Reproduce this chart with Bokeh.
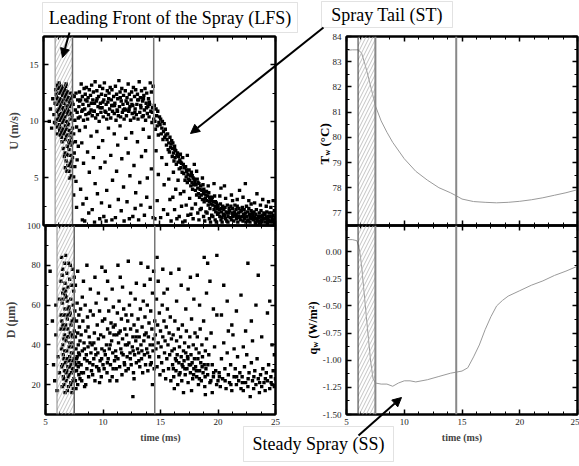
import numpy as np
from bokeh.plotting import figure
from bokeh.models import (Range1d, LinearAxis, BoxAnnotation, Span, Label, Arrow,
                          NormalHead, SingleIntervalTicker, PrintfTickFormatter)
from bokeh.embed import file_html
from bokeh.resources import INLINE

# ---------------- data ----------------
u_pts = [
 (5.5,10.0),(5.6,11.1),(5.7,9.4),(5.8,12.0),(5.9,10.6),(6.0,11.6),(5.95,9.9),
 (6.05,12.8),(6.1,11.5),(6.1,10.2),(6.15,12.1),(6.2,13.2),(6.2,9.5),(6.25,11.0),(6.3,12.5),(6.3,10.6),(6.05,9.8),(6.15,10.9),(6.25,13.0),(6.1,12.4),(6.2,8.9),(6.3,11.8),
 (6.35,13.4),(6.4,12.0),(6.4,10.1),(6.45,8.8),(6.45,11.3),(6.5,12.7),(6.5,9.4),(6.55,10.7),(6.55,13.1),(6.6,11.9),(6.6,8.2),(6.65,9.9),(6.65,12.3),(6.7,10.5),(6.7,7.6),(6.35,11.1),(6.4,9.2),(6.5,11.8),(6.6,10.3),(6.7,12.8),(6.45,12.5),(6.55,8.6),(6.65,11.2),(6.35,10.3),
 (6.75,11.6),(6.8,9.1),(6.8,12.9),(6.85,7.2),(6.85,10.4),(6.9,11.9),(6.9,8.4),(6.95,6.5),(6.95,10.0),(7.0,12.4),(7.0,9.3),(7.05,7.8),(7.05,11.1),(7.1,6.1),(7.1,10.6),(6.75,8.9),(6.8,6.9),(6.9,13.1),(7.0,7.1),(7.05,12.6),(6.85,12.2),(6.95,11.4),(7.1,8.8),(6.75,10.1),
 (7.15,12.1),(7.15,9.7),(7.2,7.5),(7.2,5.6),(7.25,11.3),(7.25,8.3),(7.3,10.2),(7.3,6.3),(7.35,12.5),(7.35,9.0),(7.4,5.2),(7.4,7.9),(7.45,11.7),(7.45,10.5),(7.5,6.8),(7.5,9.4),(7.2,10.9),(7.3,12.0),(7.4,8.6),(7.5,12.3),(7.35,6.0),(7.15,7.0),
 (6.22,12.0),(6.28,10.1),(6.33,12.9),(6.38,9.7),(6.42,11.6),(6.48,10.4),(6.52,13.0),(6.58,9.0),(6.62,12.6),(6.68,9.3),(6.72,11.0),(6.78,12.4),(6.82,10.8),(6.88,9.6),(6.92,12.7),(6.98,8.7),(7.02,10.9),(7.08,9.9),(7.12,11.8),(7.18,8.1),(7.22,9.2),(7.28,11.6),(7.32,7.0),(7.38,10.7),(7.42,6.5),(7.48,8.1),(6.88,5.9),(7.02,5.6),(7.25,5.0),(6.95,13.3),
 (7.55,11.5),(7.6,8.9),(7.6,5.1),(7.65,12.2),(7.65,7.2),(7.7,10.1),(7.7,6.0),(7.75,11.0),(7.75,8.2),(7.8,12.5),(7.8,4.7),(7.85,9.5),(7.9,10.8),(7.9,6.6),(7.95,11.9),(8.0,7.8),(8.0,10.3),(7.6,3.5),(7.85,2.4),
 (8.05,11.3),(8.1,12.6),(8.15,10.4),(8.2,11.9),(8.25,13.3),(8.3,10.9),(8.35,12.2),(8.4,11.5),(8.45,10.1),(8.5,12.9),(8.1,9.2),(8.3,8.1),(8.45,6.3),(8.2,4.0),(8.4,2.7),(8.35,1.3),
 (8.55,11.1),(8.6,12.4),(8.65,10.6),(8.7,13.0),(8.75,11.8),(8.8,10.2),(8.85,12.1),(8.9,11.4),(8.95,12.8),(9.0,10.8),(8.6,9.5),(8.8,7.3),(8.95,5.5),(8.7,3.2),(8.9,1.9),(8.55,1.2),
 (9.05,12.3),(9.1,11.0),(9.15,13.2),(9.2,10.5),(9.25,11.9),(9.3,12.6),(9.35,10.9),(9.4,11.6),(9.45,13.5),(9.5,10.3),(9.1,8.7),(9.3,6.8),(9.45,4.5),(9.2,2.2),(9.4,1.1),
 (9.55,11.8),(9.6,12.7),(9.65,10.6),(9.7,11.3),(9.75,12.2),(9.8,10.0),(9.85,13.1),(9.9,11.6),(9.95,10.8),(10.0,12.4),(9.6,9.1),(9.75,7.7),(9.9,5.9),(9.65,3.6),(9.85,1.4),(10.0,2.8),
 (10.05,11.2),(10.1,12.9),(10.15,10.4),(10.2,11.9),(10.25,13.4),(10.3,10.9),(10.35,12.3),(10.4,11.5),(10.45,10.2),(10.5,12.7),(10.1,8.3),(10.3,6.4),(10.45,3.9),(10.2,1.6),(10.4,1.2),
 (10.55,11.7),(10.6,10.6),(10.65,12.5),(10.7,11.1),(10.75,13.0),(10.8,10.3),(10.85,11.9),(10.9,12.8),(10.95,10.9),(11.0,11.4),(10.6,9.4),(10.8,7.0),(10.95,4.8),(10.7,2.5),(10.9,1.3),
 (11.05,12.2),(11.1,10.7),(11.15,11.6),(11.2,13.1),(11.25,10.1),(11.3,12.4),(11.35,11.0),(11.4,12.0),(11.45,10.5),(11.5,13.6),(11.1,8.9),(11.3,5.6),(11.45,3.1),(11.2,1.5),(11.4,7.9),
 (11.55,11.3),(11.6,12.6),(11.65,10.4),(11.7,11.8),(11.75,12.9),(11.8,10.8),(11.85,11.5),(11.9,12.3),(11.95,10.2),(12.0,11.1),(11.6,9.6),(11.75,6.7),(11.9,4.2),(11.7,2.1),(11.95,1.2),
 (12.05,12.7),(12.1,11.0),(12.15,10.5),(12.2,12.1),(12.25,11.6),(12.3,13.3),(12.35,10.9),(12.4,12.4),(12.45,11.3),(12.5,10.1),(12.1,8.5),(12.3,7.2),(12.45,5.2),(12.2,2.9),(12.4,1.4),
 (12.55,11.9),(12.6,12.6),(12.65,10.7),(12.7,11.4),(12.75,13.0),(12.8,10.3),(12.85,12.2),(12.9,11.1),(12.95,12.8),(13.0,10.6),(12.6,9.0),(12.8,6.1),(12.95,3.7),(12.7,1.6),(12.9,2.3),
 (13.05,11.5),(13.1,12.4),(13.15,10.2),(13.2,11.9),(13.25,13.5),(13.3,10.8),(13.35,12.1),(13.4,11.2),(13.45,12.7),(13.5,10.4),(13.1,8.2),(13.3,4.6),(13.45,6.9),(13.2,1.3),(13.4,2.6),
 (13.55,11.8),(13.6,10.5),(13.65,12.3),(13.7,11.0),(13.75,12.9),(13.8,10.1),(13.85,11.6),(13.9,12.5),(13.95,10.7),(14.0,11.3),(13.6,9.3),(13.8,7.4),(13.95,5.0),(13.7,1.7),(13.9,3.3),
 (14.05,12.0),(14.1,10.4),(14.15,11.5),(14.2,13.4),(14.25,10.9),(14.3,12.6),(14.35,9.9),(14.4,11.2),(14.45,13.1),(14.5,10.2),(14.1,8.6),(14.3,5.8),(14.45,1.5),(14.2,2.4),
 (8.12,11.8),(8.62,11.9),(9.12,11.6),(9.62,12.0),(10.12,11.7),(10.62,12.0),(11.12,11.4),(11.62,12.1),(12.12,11.8),(12.62,11.5),(13.12,11.9),(13.62,12.0),(14.12,11.7),
 (8.38,11.0),(8.88,10.7),(9.38,10.9),(9.88,11.2),(10.38,10.8),(10.88,11.4),(11.38,10.9),(11.88,11.0),(12.38,11.1),(12.88,10.8),(13.38,11.4),(13.88,11.2),(14.38,10.8),
 (14.55,11.4),(14.6,10.0),(14.65,9.3),(14.7,11.1),(14.75,10.5),(14.8,9.6),(14.85,10.9),(14.9,8.8),(14.95,9.9),(15.0,10.4),(14.7,7.4),(14.9,5.3),(14.6,1.4),(14.8,3.0),
 (15.05,9.7),(15.1,10.2),(15.15,8.9),(15.2,9.4),(15.25,10.0),(15.3,8.4),(15.35,9.1),(15.4,9.8),(15.45,8.6),(15.5,9.3),(15.2,6.8),(15.4,4.4),(15.1,1.5),(15.35,2.2),
 (15.55,8.8),(15.6,7.9),(15.65,8.4),(15.7,8.9),(15.75,7.5),(15.8,8.1),(15.85,7.3),(15.9,8.6),(15.95,7.7),(16.0,8.0),(15.6,6.2),(15.8,4.9),(15.7,1.8),(15.9,3.1),(16.0,1.2),
 (16.05,8.3),(16.1,7.6),(16.1,6.9),(16.15,8.1),(16.2,7.2),(16.25,6.5),(16.3,7.8),(16.35,6.8),(16.4,7.4),(16.45,6.2),(16.5,7.0),(16.2,5.5),(16.4,4.0),(16.3,2.2),(16.5,1.4),(16.15,3.3),
 (16.55,7.2),(16.6,6.4),(16.65,6.9),(16.7,5.8),(16.75,6.6),(16.8,7.1),(16.85,5.9),(16.9,6.3),(16.95,5.5),(17.0,6.8),(16.6,4.8),(16.8,3.6),(16.7,1.6),(16.9,2.5),(17.0,1.1),
 (17.05,6.2),(17.1,5.4),(17.15,5.9),(17.2,4.8),(17.25,6.0),(17.3,5.1),(17.35,5.6),(17.4,4.6),(17.45,5.3),(17.5,4.9),(17.1,3.8),(17.3,2.6),(17.45,1.7),(17.2,1.2),(17.4,7.0),
 (17.55,5.7),(17.6,4.8),(17.65,5.2),(17.7,4.3),(17.75,5.5),(17.8,4.6),(17.85,4.0),(17.9,5.0),(17.95,4.4),(18.0,4.9),(17.6,3.2),(17.8,2.3),(17.9,1.4),(17.7,1.8),(18.0,6.2),
 (18.05,4.7),(18.1,3.9),(18.15,4.4),(18.2,3.5),(18.25,4.9),(18.3,4.1),(18.35,3.6),(18.4,4.5),(18.45,3.3),(18.5,4.0),(18.1,2.7),(18.3,1.9),(18.4,1.3),(18.2,5.6),(18.5,2.2),
 (18.55,4.3),(18.6,3.5),(18.65,3.9),(18.7,3.1),(18.75,4.4),(18.8,3.6),(18.85,2.9),(18.9,3.8),(18.95,3.2),(19.0,3.5),(18.6,2.3),(18.8,1.6),(18.9,1.2),(18.7,5.0),(19.0,2.0),
 (19.05,3.8),(19.1,3.0),(19.15,3.4),(19.2,2.6),(19.25,3.7),(19.3,2.9),(19.35,2.3),(19.4,3.2),(19.45,2.7),(19.5,3.0),(19.1,1.9),(19.3,1.4),(19.4,1.1),(19.2,4.3),(19.5,1.7),
 (19.55,3.3),(19.6,2.6),(19.65,2.9),(19.7,2.2),(19.75,3.4),(19.8,2.5),(19.85,2.0),(19.9,2.8),(19.95,2.3),(20.0,2.6),(19.6,1.6),(19.8,1.3),(19.9,1.1),(19.7,4.5),(20.0,1.8),
 (17.82,5.2),(18.32,4.6),(18.82,4.0),(19.32,3.3),(19.82,2.9),(20.32,2.3),(20.82,1.9),(21.32,1.7),(21.82,1.6),(22.32,1.5),(22.82,1.7),(23.32,1.4),(23.82,1.3),(24.32,1.4),(24.82,1.2),(16.32,7.5),(16.82,6.4),(17.32,5.7),
 (20.05,2.4),(20.1,1.9),(20.15,2.2),(20.2,1.6),(20.25,2.7),(20.3,1.3),(20.35,2.0),(20.4,1.5),(20.45,2.5),(20.5,1.8),(20.2,3.4),(20.4,1.1),(20.3,4.1),
 (20.55,2.2),(20.6,1.7),(20.65,2.4),(20.7,1.4),(20.75,2.0),(20.8,1.2),(20.85,2.6),(20.9,1.6),(20.95,1.9),(21.0,2.3),(20.7,3.2),(20.9,1.1),(20.6,4.3),
 (21.05,2.1),(21.1,1.5),(21.15,2.5),(21.2,1.3),(21.25,1.9),(21.3,2.3),(21.35,1.6),(21.4,1.2),(21.45,2.0),(21.5,2.6),(21.2,3.5),(21.4,1.8),(21.3,3.0),
 (21.55,1.8),(21.6,2.2),(21.65,1.4),(21.7,2.5),(21.75,1.1),(21.8,1.9),(21.85,2.3),(21.9,1.5),(21.95,2.0),(22.0,1.3),(21.7,3.1),(21.9,3.9),(21.6,1.7),
 (22.05,2.1),(22.1,1.6),(22.15,2.4),(22.2,1.2),(22.25,1.8),(22.3,2.2),(22.35,1.4),(22.4,1.9),(22.45,1.1),(22.5,2.5),(22.2,3.3),(22.4,4.5),(22.3,1.7),
 (22.55,1.6),(22.6,2.0),(22.65,1.3),(22.7,2.3),(22.75,1.8),(22.8,1.1),(22.85,1.5),(22.9,2.1),(22.95,1.4),(23.0,1.9),(22.7,3.0),(22.9,2.7),(22.6,1.2),
 (23.05,1.7),(23.1,1.3),(23.15,2.0),(23.2,1.5),(23.25,1.1),(23.3,1.8),(23.35,2.2),(23.4,1.4),(23.45,1.2),(23.5,1.6),(23.2,2.8),(23.4,3.6),(23.3,1.0),
 (23.55,1.5),(23.6,1.9),(23.65,1.2),(23.7,1.6),(23.75,2.1),(23.8,1.3),(23.85,1.1),(23.9,1.7),(23.95,1.4),(24.0,1.9),(23.7,2.6),(23.9,3.1),(23.6,1.0),
 (24.05,1.4),(24.1,1.8),(24.15,1.1),(24.2,1.5),(24.25,2.0),(24.3,1.2),(24.35,1.6),(24.4,1.3),(24.45,1.9),(24.5,1.1),(24.2,2.5),(24.4,2.9),(24.3,1.0),
 (24.55,1.6),(24.6,1.2),(24.65,1.9),(24.7,1.4),(24.75,1.1),(24.8,1.7),(24.85,1.3),(24.9,2.1),(24.95,1.5),(24.6,2.4),(24.8,3.0),(24.9,1.0),
]

d_pts = [
 (5.4,77),(5.6,52),(5.7,30),(5.8,22),(5.9,45),(6.0,17),(6.1,34),(6.2,63),(5.9,60),(6.2,26),
 (6.35,72),(6.35,48),(6.4,84),(6.4,29),(6.45,61),(6.45,19),(6.5,78),(6.5,40),(6.55,55),(6.55,24),(6.6,68),(6.6,33),(6.65,81),(6.65,45),(6.7,16),(6.7,58),(6.4,38),(6.5,66),(6.6,20),(6.35,55),(6.45,75),(6.55,35),(6.65,27),(6.7,71),(6.5,50),(6.6,43),
 (6.75,85),(6.75,50),(6.8,22),(6.8,64),(6.85,37),(6.85,76),(6.9,17),(6.9,53),(6.95,29),(6.95,69),(7.0,44),(7.0,81),(7.05,25),(7.05,59),(7.1,34),(7.1,73),(6.75,31),(6.8,42),(6.9,62),(6.95,48),(7.0,19),(7.05,39),(7.1,55),(6.85,27),(6.75,67),(7.0,32),
 (7.15,80),(7.15,46),(7.2,21),(7.2,63),(7.25,36),(7.25,70),(7.3,16),(7.3,52),(7.35,28),(7.35,78),(7.4,41),(7.4,60),(7.45,23),(7.45,33),(7.5,47),(7.5,74),(7.2,30),(7.3,39),(7.4,18),(7.15,56),(7.25,26),(7.35,44),(7.45,67),(7.5,27),
 (6.42,52),(6.48,30),(6.52,63),(6.58,23),(6.62,48),(6.68,37),(6.72,65),(6.78,26),(6.82,55),(6.88,33),(6.92,44),(6.98,24),(7.02,58),(7.08,29),(7.12,41),(7.18,20),(7.22,50),(7.28,32),(7.32,45),(7.38,22),(7.42,36),(7.48,53),
 (7.55,57),(7.55,31),(7.6,22),(7.6,44),(7.65,38),(7.65,18),(7.7,52),(7.7,27),(7.75,34),(7.75,61),(7.8,20),(7.8,46),(7.85,29),(7.85,40),(7.9,25),(7.9,55),(7.95,35),(7.95,49),(8.0,23),(8.0,42),(7.6,70),(7.8,77),(7.7,33),(7.9,31),
 (8.05,58),(8.1,30),(8.1,45),(8.15,22),(8.2,37),(8.25,52),(8.3,26),(8.35,41),(8.4,33),(8.45,60),(8.5,20),(8.5,47),(8.55,35),(8.6,28),(8.65,54),(8.7,39),(8.75,24),(8.8,44),(8.85,31),(8.9,57),(8.95,36),(9.0,27),(8.3,72),(8.6,80),(8.9,68),(8.2,64),(8.7,49),(8.4,19),
 (9.05,40),(9.1,25),(9.15,55),(9.2,33),(9.25,46),(9.3,22),(9.35,38),(9.4,61),(9.45,29),(9.5,50),(9.55,36),(9.6,43),(9.65,27),(9.7,57),(9.75,32),(9.8,45),(9.85,24),(9.9,38),(9.95,52),(10.0,30),(9.3,74),(9.6,66),(9.9,79),(9.2,41),(9.7,21),
 (10.05,44),(10.1,28),(10.15,53),(10.2,35),(10.25,63),(10.3,40),(10.35,26),(10.4,48),(10.45,33),(10.5,57),(10.55,38),(10.6,46),(10.65,30),(10.7,51),(10.75,42),(10.8,24),(10.85,36),(10.9,59),(10.95,45),(11.0,32),(10.4,72),(10.8,68),(10.2,77),(10.6,22),(10.9,49),
 (11.05,50),(11.1,37),(11.15,28),(11.2,45),(11.25,56),(11.3,33),(11.35,41),(11.4,62),(11.45,29),(11.5,47),(11.55,38),(11.6,53),(11.65,25),(11.7,43),(11.75,35),(11.8,58),(11.85,31),(11.9,48),(11.95,40),(12.0,27),(11.3,80),(11.7,69),(11.5,74),(12.0,55),(11.2,22),
 (12.05,45),(12.1,34),(12.15,52),(12.2,28),(12.25,41),(12.3,60),(12.35,36),(12.4,48),(12.45,30),(12.5,55),(12.55,39),(12.6,44),(12.65,26),(12.7,50),(12.75,35),(12.8,63),(12.85,42),(12.9,31),(12.95,47),(13.0,38),(12.6,14),(12.2,82),(12.9,71),(12.4,66),(12.7,23),
 (13.05,53),(13.1,36),(13.15,44),(13.2,29),(13.25,58),(13.3,40),(13.35,33),(13.4,49),(13.45,26),(13.5,62),(13.55,42),(13.6,35),(13.65,54),(13.7,30),(13.75,46),(13.8,38),(13.85,60),(13.9,27),(13.95,44),(14.0,51),(14.05,34),(14.1,40),(14.15,57),(14.2,31),(14.25,48),(14.3,66),(14.35,37),(14.4,43),(14.45,28),(14.5,52),(13.3,81),(13.9,79),(14.4,77),(13.6,70),(14.1,73),(14.3,20),
 (7.62,30),(7.88,36),(8.12,26),(8.38,38),(8.62,32),(8.88,41),(9.12,30),(9.38,35),(9.62,28),(9.88,33),(10.12,37),(10.38,31),(10.62,40),(10.88,28),(11.12,34),(11.38,46),(11.62,36),(11.88,30),(12.12,40),(12.38,33),(12.62,37),(12.88,44),(13.12,32),(13.38,37),(13.62,45),(13.88,36),(14.12,30),(14.38,40),
 (14.55,45),(14.6,38),(14.65,63),(14.7,29),(14.75,50),(14.8,41),(14.85,34),(14.9,56),(14.95,25),(15.0,47),(15.05,39),(15.1,31),(15.15,60),(15.2,44),(15.25,27),(15.3,52),(15.35,36),(15.4,42),(15.45,23),(15.5,49),(15.55,33),(15.6,58),(15.65,40),(15.7,28),(15.75,46),(15.8,35),(15.85,54),(15.9,22),(15.95,43),(16.0,37),(14.8,72),(15.2,78),(15.6,68),(15.9,76),(15.3,66),(14.7,84),
 (16.05,30),(16.1,45),(16.15,24),(16.2,38),(16.25,52),(16.3,33),(16.35,27),(16.4,42),(16.45,35),(16.5,20),(16.55,48),(16.6,31),(16.65,39),(16.7,26),(16.75,44),(16.8,34),(16.85,22),(16.9,50),(16.95,29),(17.0,37),(17.05,32),(17.1,41),(17.15,25),(17.2,36),(17.25,47),(17.3,28),(17.35,34),(17.4,21),(17.45,39),(17.5,30),(17.55,44),(17.6,26),(17.65,35),(17.7,53),(17.75,31),(17.8,23),(17.85,40),(17.9,28),(17.95,33),(18.0,46),(16.4,62),(16.8,70),(17.2,58),(17.6,74),(17.9,63),(16.2,18),(17.0,16),(17.7,17),(16.6,78),(17.4,68),
 (16.12,28),(16.38,32),(16.62,25),(16.88,30),(17.12,28),(17.38,33),(17.62,30),(17.88,25),(18.12,27),(18.38,23),(18.62,29),(18.88,24),(19.12,30),(19.38,22),(19.62,26),(19.88,20),
 (18.05,29),(18.1,38),(18.15,24),(18.2,44),(18.25,33),(18.3,20),(18.35,36),(18.4,27),(18.45,48),(18.5,31),(18.55,22),(18.6,40),(18.65,34),(18.7,26),(18.75,52),(18.8,30),(18.85,19),(18.9,37),(18.95,28),(19.0,43),(19.1,25),(19.2,35),(19.3,21),(19.4,46),(19.5,30),(19.6,24),(19.7,39),(19.8,27),(19.9,55),(20.0,22),(18.4,60),(18.8,84),(19.0,66),(19.3,72),(19.6,58),(19.9,85),(18.2,75),(19.5,16),(18.9,15),(19.1,81),
 (20.1,26),(20.2,19),(20.3,33),(20.4,23),(20.5,41),(20.6,28),(20.7,18),(20.8,36),(20.9,25),(21.0,21),(21.1,30),(21.2,17),(21.3,45),(21.4,24),(21.5,28),(21.6,20),(21.7,34),(21.8,22),(21.9,26),(22.0,18),(20.3,55),(20.8,62),(21.2,50),(21.6,57),(22.0,65),(20.5,70),(21.4,38),(20.9,47),
 (20.12,24),(20.62,22),(21.12,20),(21.62,24),(22.12,21),(22.62,23),(23.12,24),(23.62,21),(24.12,23),(24.62,21),
 (22.1,24),(22.2,17),(22.3,29),(22.4,21),(22.5,35),(22.6,19),(22.7,26),(22.8,14),(22.9,31),(23.0,22),(23.1,18),(23.2,27),(23.3,20),(23.4,33),(23.5,23),(23.6,16),(23.7,25),(23.8,19),(23.9,28),(24.0,21),(24.1,17),(24.2,26),(24.3,22),(24.4,30),(24.5,18),(24.6,24),(24.7,20),(24.8,27),(24.9,19),(25.0,23),(22.4,47),(22.9,52),(23.3,60),(23.8,44),(24.3,56),(24.7,40),(22.6,81),(23.5,75),(24.5,62),(22.2,39),(23.0,42),(24.9,35),
]

tw_time = [5, 5.5, 6.0, 6.3, 6.6, 7.0, 7.5, 8.0, 8.5, 9.0, 10, 11, 12, 13, 14, 14.5, 15, 16, 17, 18, 19, 20, 21, 22, 23, 24, 25]
tw_temp = [83.45, 83.47, 83.47, 83.35, 82.9, 82.2, 81.25, 80.65, 80.2, 79.8, 79.15, 78.65, 78.3, 78.0, 77.8, 77.68, 77.55, 77.45, 77.42, 77.4, 77.42, 77.46, 77.52, 77.6, 77.7, 77.8, 77.92]

qw_time = [5, 5.5, 5.9, 6.1, 6.3, 6.5, 6.7, 6.9, 7.1, 7.3, 7.5, 8, 8.5, 9, 9.5, 10, 10.5, 11, 12, 13, 14, 14.5, 15, 15.5, 16, 16.5, 17, 17.5, 18, 18.5, 19, 20, 21, 22, 23, 24, 25]
qw_flux = [0.11, 0.11, 0.10, 0.03, -0.12, -0.35, -0.58, -0.80, -1.02, -1.17, -1.21, -1.22, -1.22, -1.24, -1.21, -1.19, -1.19, -1.20, -1.18, -1.15, -1.12, -1.11, -1.10, -1.07, -0.97, -0.86, -0.72, -0.60, -0.50, -0.45, -0.41, -0.36, -0.31, -0.27, -0.22, -0.18, -0.135]

lfs_start, lfs_end, ss_end = 6.0, 7.5, 14.5

u_time = [p[0] for p in u_pts]; u_vel = [p[1] for p in u_pts]
d_time = [p[0] for p in d_pts]; d_diam = [p[1] for p in d_pts]

# ---------------- layout ----------------
W, H = 579, 466
SERIF = "Liberation Serif"
ABS = {"position": "absolute", "left": "0px", "top": "0px"}


def style_axis(ax, labels=True, standoff=4):
    ax.axis_line_width = 2
    ax.axis_line_color = "black"
    ax.major_tick_in = 5
    ax.major_tick_out = 0
    ax.minor_tick_in = 3
    ax.minor_tick_out = 0
    ax.major_tick_line_width = 1.5
    ax.minor_tick_line_width = 1
    ax.major_label_text_font = SERIF
    ax.major_label_text_color = "#222222" if labels else None
    ax.major_label_text_font_size = "9px" if labels else "0px"
    ax.major_label_standoff = standoff if labels else 0
    ax.axis_label_text_font = SERIF
    ax.axis_label_text_font_style = "bold"


def panel(fl, ft, fr, fb, yr, yint, yfmt=None, xlabels=False, ylabel=None):
    p = figure(width=W, height=H, x_range=Range1d(5, 25), y_range=Range1d(*yr),
               output_backend="svg", toolbar_location=None,
               min_border_left=fl, min_border_top=ft, min_border_right=W - fr,
               min_border_bottom=H - fb, styles=dict(ABS))
    p.border_fill_color = None
    p.background_fill_color = None
    p.outline_line_color = "black"
    p.outline_line_width = 2
    p.grid.visible = False
    xt = lambda: SingleIntervalTicker(interval=5, num_minor_ticks=4)
    yt = lambda: SingleIntervalTicker(interval=yint, num_minor_ticks=2)
    p.xaxis.ticker = xt()
    p.yaxis.ticker = yt()
    for ax in p.xaxis:
        style_axis(ax, labels=xlabels)
        if xlabels:
            ax.axis_label = "time (ms)"
            ax.axis_label_text_font_size = "10px"
            ax.axis_label_standoff = 4
    for ax in p.yaxis:
        style_axis(ax, labels=True, standoff=5)
        if yfmt:
            ax.formatter = PrintfTickFormatter(format=yfmt)
        if ylabel:
            ax.axis_label = ylabel
            ax.axis_label_text_font_size = "12px"
            ax.axis_label_standoff = 6
    top = LinearAxis(ticker=xt()); style_axis(top, labels=False)
    right = LinearAxis(ticker=yt()); style_axis(right, labels=False)
    p.add_layout(top, "above")
    p.add_layout(right, "right")
    return p


def add_marks(p, left_panel):
    p.add_layout(BoxAnnotation(left=lfs_start, right=lfs_end, fill_alpha=0, fill_color=None,
                               line_color=None, hatch_pattern="/", hatch_color="#b4b4b4",
                               hatch_scale=7, hatch_weight=0.8))
    if left_panel:
        p.add_layout(Span(location=lfs_start, dimension="height", line_color="#888888", line_width=1))
        p.add_layout(Span(location=lfs_end, dimension="height", line_color="#666666", line_width=1.5))
        p.add_layout(Span(location=ss_end, dimension="height", line_color="#777777", line_width=1.5))
    else:
        p.add_layout(Span(location=lfs_start, dimension="height", line_color="#333333", line_width=1))
        p.add_layout(Span(location=lfs_end, dimension="height", line_color="#888888", line_width=2))
        p.add_layout(Span(location=ss_end, dimension="height", line_color="#888888", line_width=2))


DOT = 3.4

# top-left: U
p1 = panel(43, 36, 275, 225, (0.8, 17.5), 5, ylabel="U (m/s)")
p1.scatter(u_time, u_vel, marker="square", size=DOT, color="black", line_width=0)
add_marks(p1, True)

# bottom-left: D
p2 = panel(43, 225, 275, 414, (5, 100), 20, xlabels=True, ylabel="D (\u03bcm)")
p2.scatter(d_time, d_diam, marker="square", size=DOT, color="black", line_width=0)
add_marks(p2, True)

# top-right: Tw
p3 = panel(346, 36, 577, 225, (76.5, 84), 1)
p3.line(tw_time, tw_temp, line_color="#9a9a9a", line_width=1)
add_marks(p3, False)

# bottom-right: qw
p4 = panel(346, 225, 577, 414, (-1.5, 0.24), 0.25, yfmt="%.2f", xlabels=True)
p4.line(qw_time, qw_flux, line_color="#9a9a9a", line_width=1)
add_marks(p4, False)

# overlay for callouts (pixel coordinate frame)
ov = figure(width=W, height=H, x_range=Range1d(0, W), y_range=Range1d(0, H),
            output_backend="svg", toolbar_location=None,
            x_axis_location=None, y_axis_location=None, min_border=0,
            min_border_left=0, min_border_right=0, min_border_top=0, min_border_bottom=0,
            styles=dict(ABS))
ov.border_fill_color = None
ov.background_fill_color = None
ov.outline_line_color = None
ov.grid.visible = False


def Y(v):
    return H - v


def callout(l, t, r, b, text):
    ov.add_layout(BoxAnnotation(left=l, right=r, top=Y(t), bottom=Y(b), fill_color="white",
                                fill_alpha=1, line_color="#a0a0a0", line_width=1))
    ov.add_layout(Label(x=(l + r) / 2, y=Y((t + b) / 2), text=text, text_font=SERIF,
                        text_font_size="18px", text_align="center", text_baseline="middle",
                        text_color="black"))


def arrow(x0, y0, x1, y1):
    ov.add_layout(Arrow(end=NormalHead(size=9, fill_color="black", line_color="black"),
                        x_start=x0, y_start=Y(y0), x_end=x1, y_end=Y(y1),
                        line_color="black", line_width=2))


callout(42, 2, 297, 32, "Leading Front of the Spray (LFS)")
callout(321, 1, 452, 27, "Spray Tail (ST)")
callout(243, 426, 393, 461, "Steady Spray (SS)")
arrow(69, 32, 62, 57)
arrow(323, 27, 190, 133)
arrow(358, 435, 401, 397)


def vlabel(x, y, parts):
    for txt, size, dx, adv in parts:
        ov.add_layout(Label(x=x + dx, y=Y(y), text=txt, angle=np.pi / 2, text_font=SERIF,
                            text_font_size=size, text_font_style="bold", text_align="left",
                            text_baseline="middle", text_color="black"))
        y -= adv


vlabel(324, 164, [("T", "13px", 0, 9), ("w", "8px", 3, 9), ("(\u00b0C)", "13px", 0, 0)])
vlabel(312, 354, [("q", "12px", 0, 7), ("w", "8px", 3, 9), ("(W/m\u00b2)", "12px", 0, 0)])

open("out.html", "w").write(file_html([p1, p2, p3, p4, ov], INLINE))
